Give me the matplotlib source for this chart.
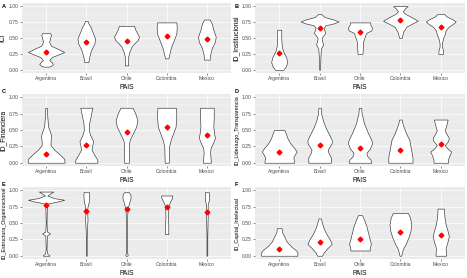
import matplotlib
matplotlib.use('Agg')
from matplotlib import pyplot as plt, ticker
import numpy as np

paises = ['Argentina', 'Brasil', 'Chile', 'Colombia', 'Mexico']
letras = ['A', 'B', 'C', 'D', 'E', 'F']
variables = ['ICI', 'ID_Institucional', 'ID_Financiera',
             'ID_Liderazgo_Transparencia', 'ID_Estructura_Organizacional',
             'ID_Capital_Intelectual']

# violin outlines: (valor, media anchura) desde arriba hacia abajo
ici_shapes = [
    [(0.575, 0.10), (0.55, 0.12), (0.50, 0.10), (0.44, 0.075), (0.38, 0.12), (0.33, 0.29),
     (0.28, 0.45), (0.24, 0.30), (0.20, 0.14), (0.15, 0.08), (0.12, 0.14), (0.09, 0.17),
     (0.06, 0.12), (0.05, 0.06)],
    [(0.77, 0.03), (0.72, 0.06), (0.68, 0.10), (0.57, 0.17), (0.49, 0.22), (0.41, 0.20),
     (0.31, 0.12), (0.20, 0.07), (0.12, 0.05)],
    [(0.69, 0.19), (0.63, 0.22), (0.57, 0.27), (0.52, 0.31), (0.47, 0.28), (0.42, 0.20),
     (0.36, 0.12), (0.28, 0.07), (0.20, 0.04), (0.07, 0.04)],
    [(0.745, 0.24), (0.68, 0.25), (0.57, 0.24), (0.47, 0.18), (0.34, 0.10), (0.23, 0.06),
     (0.18, 0.04)],
    [(0.79, 0.07), (0.73, 0.12), (0.63, 0.16), (0.52, 0.22), (0.44, 0.20), (0.34, 0.12),
     (0.23, 0.08), (0.16, 0.07)],
]
ici_means = [0.28, 0.43, 0.45, 0.53, 0.48]

inst_shapes = [
    [(0.63, 0.05), (0.50, 0.05), (0.38, 0.06), (0.30, 0.09), (0.20, 0.17), (0.12, 0.20),
     (0.05, 0.16), (0.0, 0.10)],
    [(0.88, 0.03), (0.83, 0.12), (0.79, 0.35), (0.76, 0.47), (0.73, 0.35), (0.70, 0.15),
     (0.66, 0.10), (0.62, 0.12), (0.58, 0.14), (0.54, 0.09), (0.50, 0.05), (0.45, 0.06),
     (0.40, 0.09), (0.37, 0.06), (0.32, 0.03), (0.20, 0.02), (0.0, 0.01)],
    [(0.745, 0.25), (0.70, 0.26), (0.66, 0.30), (0.62, 0.28), (0.58, 0.15), (0.52, 0.12),
     (0.45, 0.08), (0.35, 0.07), (0.25, 0.06)],
    [(1.0, 0.18), (0.97, 0.12), (0.92, 0.06), (0.88, 0.12), (0.82, 0.30), (0.77, 0.43),
     (0.73, 0.30), (0.68, 0.15), (0.60, 0.07), (0.50, 0.03)],
    [(0.88, 0.08), (0.84, 0.14), (0.79, 0.30), (0.76, 0.37), (0.72, 0.30), (0.68, 0.20),
     (0.62, 0.12), (0.56, 0.10), (0.50, 0.06), (0.42, 0.03), (0.36, 0.03), (0.32, 0.05),
     (0.28, 0.06), (0.25, 0.06)],
]
inst_means = [0.26, 0.65, 0.59, 0.79, 0.68]

fin_shapes = [
    [(0.84, 0.02), (0.70, 0.03), (0.55, 0.05), (0.47, 0.10), (0.40, 0.13), (0.33, 0.11),
     (0.27, 0.11), (0.20, 0.20), (0.12, 0.35), (0.06, 0.45), (0.0, 0.46)],
    [(0.84, 0.15), (0.75, 0.12), (0.60, 0.07), (0.50, 0.06), (0.42, 0.10), (0.33, 0.17),
     (0.27, 0.15), (0.20, 0.13), (0.12, 0.20), (0.05, 0.27), (0.0, 0.28)],
    [(0.84, 0.15), (0.75, 0.22), (0.65, 0.27), (0.55, 0.24), (0.45, 0.16), (0.35, 0.08),
     (0.28, 0.06), (0.0, 0.06)],
    [(0.84, 0.23), (0.70, 0.24), (0.55, 0.22), (0.45, 0.16), (0.35, 0.10), (0.25, 0.06),
     (0.0, 0.05)],
    [(0.84, 0.17), (0.70, 0.17), (0.55, 0.16), (0.45, 0.18), (0.38, 0.20), (0.30, 0.15),
     (0.22, 0.09), (0.15, 0.08), (0.0, 0.10)],
]
fin_means = [0.13, 0.27, 0.47, 0.54, 0.43]

lid_shapes = [
    [(0.50, 0.13), (0.45, 0.16), (0.38, 0.20), (0.30, 0.27), (0.22, 0.38), (0.17, 0.43),
     (0.12, 0.38), (0.08, 0.35), (0.0, 0.37)],
    [(0.84, 0.03), (0.75, 0.04), (0.65, 0.08), (0.55, 0.14), (0.45, 0.22), (0.35, 0.30),
     (0.30, 0.30), (0.25, 0.25), (0.20, 0.20), (0.15, 0.22), (0.08, 0.28), (0.0, 0.28)],
    [(0.84, 0.03), (0.75, 0.04), (0.60, 0.10), (0.45, 0.20), (0.35, 0.28), (0.30, 0.30),
     (0.22, 0.25), (0.15, 0.16), (0.10, 0.18), (0.05, 0.26), (0.0, 0.28)],
    [(0.66, 0.03), (0.58, 0.06), (0.45, 0.14), (0.35, 0.22), (0.25, 0.25), (0.15, 0.28),
     (0.08, 0.30), (0.0, 0.30)],
    [(0.66, 0.17), (0.58, 0.14), (0.50, 0.10), (0.45, 0.13), (0.38, 0.20), (0.33, 0.18),
     (0.27, 0.10), (0.22, 0.16), (0.17, 0.26), (0.12, 0.22), (0.05, 0.18), (0.0, 0.18)],
]
lid_means = [0.16, 0.27, 0.23, 0.19, 0.28]

est_shapes = [
    [(0.98, 0.18), (0.95, 0.10), (0.92, 0.03), (0.88, 0.20), (0.855, 0.45), (0.83, 0.30),
     (0.80, 0.05), (0.77, 0.02), (0.50, 0.01), (0.37, 0.02), (0.34, 0.10), (0.31, 0.02),
     (0.10, 0.01), (0.03, 0.03), (0.01, 0.08), (0.0, 0.08)],
    [(0.97, 0.07), (0.90, 0.07), (0.82, 0.06), (0.78, 0.04), (0.70, 0.02), (0.55, 0.03),
     (0.45, 0.02), (0.30, 0.01), (0.0, 0.01)],
    [(0.97, 0.06), (0.93, 0.10), (0.88, 0.10), (0.82, 0.07), (0.75, 0.04), (0.65, 0.02),
     (0.40, 0.01), (0.05, 0.01), (0.02, 0.03), (0.0, 0.02)],
    [(0.92, 0.14), (0.88, 0.13), (0.82, 0.08), (0.76, 0.04), (0.60, 0.03), (0.45, 0.04),
     (0.33, 0.04)],
    [(0.97, 0.05), (0.85, 0.05), (0.78, 0.02), (0.60, 0.02), (0.30, 0.01), (0.0, 0.01)],
]
est_means = [0.77, 0.68, 0.72, 0.74, 0.67]

cap_shapes = [
    [(0.42, 0.06), (0.36, 0.07), (0.30, 0.12), (0.22, 0.18), (0.15, 0.28), (0.08, 0.42),
     (0.05, 0.45), (0.0, 0.45)],
    [(0.57, 0.03), (0.50, 0.06), (0.42, 0.10), (0.34, 0.16), (0.25, 0.25), (0.18, 0.30),
     (0.12, 0.20), (0.05, 0.10), (0.0, 0.06)],
    [(0.62, 0.05), (0.55, 0.10), (0.45, 0.16), (0.35, 0.20), (0.25, 0.24), (0.18, 0.27),
     (0.12, 0.24), (0.08, 0.24)],
    [(0.65, 0.19), (0.58, 0.24), (0.48, 0.27), (0.38, 0.25), (0.28, 0.20), (0.18, 0.13),
     (0.10, 0.06), (0.0, 0.02)],
    [(0.72, 0.08), (0.60, 0.09), (0.48, 0.12), (0.40, 0.16), (0.30, 0.20), (0.22, 0.17),
     (0.12, 0.12), (0.0, 0.13)],
]
cap_means = [0.10, 0.21, 0.25, 0.37, 0.32]

all_shapes = [ici_shapes, inst_shapes, fin_shapes, lid_shapes, est_shapes, cap_shapes]
all_means = [ici_means, inst_means, fin_means, lid_means, est_means, cap_means]

FAM = ['Liberation Sans Narrow', 'Liberation Sans', 'DejaVu Sans']
W, H = 467, 278
fig = plt.figure(figsize=(W / 100, H / 100), dpi=100)
fig.patch.set_facecolor('white')

# panel boxes in pixels: left, top, right, bottom
cols = [(22, 231), (255, 465)]
rows = [(3, 73), (94, 166), (187, 259)]

for i in range(6):
    r, c = divmod(i, 2)
    x0, x1 = cols[c]
    y0, y1 = rows[r]
    ax = fig.add_axes([x0 / W, 1 - y1 / H, (x1 - x0) / W, (y1 - y0) / H])
    ax.set_facecolor('#EBEBEB')
    for s in ax.spines.values():
        s.set_visible(False)
    ax.set_xlim(0.4, 5.6)
    ax.set_ylim(-0.05, 1.05)
    ax.set_xticks(range(1, 6))
    ax.set_xticklabels(paises, family=FAM, fontsize=3.6, color='#4D4D4D')
    ax.yaxis.set_major_locator(ticker.MultipleLocator(0.25))
    ax.yaxis.set_minor_locator(ticker.MultipleLocator(0.125))
    ax.yaxis.set_major_formatter(ticker.FormatStrFormatter('%.2f'))
    for lab in ax.get_yticklabels():
        lab.set_family(FAM)
    ax.tick_params(axis='both', which='major', length=1.5, width=0.4, color='#333333',
                   labelsize=3.6, labelcolor='#4D4D4D', pad=1)
    ax.tick_params(axis='y', which='minor', length=0)
    ax.grid(True, which='major', color='white', lw=0.5)
    ax.grid(True, which='minor', axis='y', color='white', lw=0.25)
    ax.set_axisbelow(True)

    for k, shape in enumerate(all_shapes[i]):
        arr = np.array(shape)
        ax.fill_betweenx(arr[:, 0], k + 1 - arr[:, 1], k + 1 + arr[:, 1],
                         facecolor='white', edgecolor='#333333', lw=0.45, zorder=3)
    ax.plot(range(1, 6), all_means[i], linestyle='none', marker='D', markersize=2.4,
            color='red', zorder=4)

    ax.set_xlabel('PAIS', family=FAM, fontsize=4.8, labelpad=1.5)
    ysize = 4.8 if len(variables[i]) < 20 else 3.9
    ax.set_ylabel(variables[i], family=FAM, fontsize=ysize, labelpad=1.5)
    ly = y0 + 1 if r == 0 else y0 - 5
    fig.text((x0 - 20) / W, 1 - ly / H, letras[i], family=FAM, fontsize=4,
             fontweight='bold', va='top', ha='left')

fig.savefig('out.png', dpi=100)
